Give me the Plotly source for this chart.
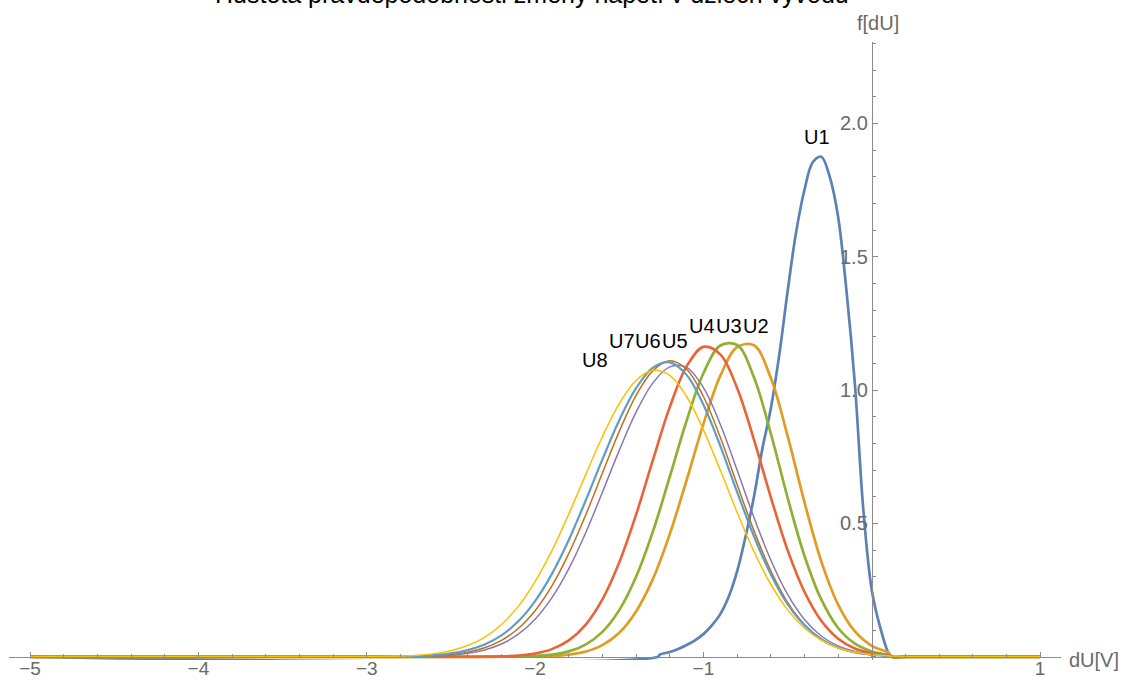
import plotly.graph_objects as go

# ---------------- data ----------------
title_text = "Hustota pravděpodobnosti změny napětí v uzlech vývodu"
series_names = ["U1", "U2", "U3", "U4", "U5", "U6", "U7", "U8"]

# U1 is sampled on its own grid
x_u1 = [-5.0, -1.27, -1.26, -1.2, -1.15, -1.1, -1.05, -1.0, -0.95, -0.9, -0.85, -0.8,
        -0.75, -0.7, -0.65, -0.6, -0.55, -0.5, -0.45, -0.4, -0.35, -0.3, -0.25, -0.2,
        -0.15, -0.1, -0.05, 0.0, 0.05, 0.1, 0.115, 0.2, 1.0]
y_u1 = [0, 0, 0.008, 0.018, 0.029, 0.044, 0.062, 0.085, 0.118, 0.160, 0.225, 0.32,
        0.45, 0.60, 0.78, 0.93, 1.13, 1.37, 1.59, 1.75, 1.855, 1.875, 1.80, 1.65,
        1.37, 1.02, 0.55, 0.25, 0.11, 0.012, 0, 0, 0]

# U2..U8 share one grid
x_grid = [-5.0, -3.2, -3.1, -3.0, -2.9, -2.8, -2.7, -2.6, -2.5, -2.4, -2.3, -2.2, -2.1,
          -2.0, -1.9, -1.8, -1.7, -1.6, -1.5, -1.4, -1.3, -1.2, -1.1, -1.0, -0.9, -0.8,
          -0.7, -0.6, -0.5, -0.4, -0.3, -0.2, -0.1, 0.0, 0.1, 0.12, 0.2, 1.0]
y_u2 = [0, 0, 0, 0, 0, 0, 0, 0, 0, 0, 0, 0.0001, 0.0003,
        0.0010, 0.0029, 0.0079, 0.0194, 0.0437, 0.090, 0.170, 0.292, 0.460, 0.662, 0.873, 1.053, 1.161,
        1.168, 1.046, 0.828, 0.580, 0.358, 0.196, 0.095, 0.041, 0.015, 0, 0, 0]
y_u3 = [0, 0, 0, 0, 0, 0, 0, 0, 0, 0, 0.0001, 0.0003, 0.0011,
        0.0031, 0.0083, 0.0203, 0.0456, 0.0933, 0.175, 0.300, 0.470, 0.675, 0.885, 1.063, 1.167, 1.169,
        1.048, 0.838, 0.597, 0.379, 0.215, 0.108, 0.049, 0.020, 0.007, 0, 0, 0]
y_u4 = [0, 0, 0, 0, 0, 0, 0, 0, 0, 0.0002, 0.0006, 0.0018, 0.0049,
        0.0124, 0.0288, 0.0614, 0.120, 0.215, 0.354, 0.533, 0.738, 0.936, 1.089, 1.162, 1.134, 1.008,
        0.814, 0.599, 0.400, 0.244, 0.135, 0.068, 0.031, 0.013, 0.005, 0, 0, 0]
y_u5 = [0, 0, 0, 0.0001, 0.0002, 0.0005, 0.0012, 0.0028, 0.0062, 0.0130, 0.0258, 0.048, 0.085,
        0.141, 0.222, 0.330, 0.464, 0.617, 0.774, 0.917, 1.027, 1.087, 1.085, 1.009, 0.872, 0.700,
        0.523, 0.363, 0.234, 0.140, 0.078, 0.041, 0.020, 0.009, 0.004, 0, 0, 0]
y_u6 = [0, 0, 0, 0.0001, 0.0003, 0.0007, 0.0017, 0.0040, 0.0086, 0.0175, 0.0338, 0.0616, 0.106,
        0.173, 0.266, 0.387, 0.531, 0.689, 0.845, 0.980, 1.073, 1.110, 1.078, 0.976, 0.823, 0.646,
        0.473, 0.322, 0.204, 0.121, 0.066, 0.034, 0.016, 0.007, 0.003, 0, 0, 0]
y_u7 = [0, 0, 0, 0.0002, 0.0005, 0.0012, 0.0028, 0.0062, 0.0127, 0.0248, 0.0458, 0.080, 0.133,
        0.209, 0.311, 0.438, 0.585, 0.740, 0.887, 1.007, 1.084, 1.104, 1.057, 0.945, 0.791, 0.618,
        0.452, 0.309, 0.197, 0.118, 0.066, 0.034, 0.017, 0.008, 0.003, 0, 0, 0]
y_u8 = [0, 0, 0, 0.0005, 0.0012, 0.0028, 0.0059, 0.0119, 0.0230, 0.0421, 0.073, 0.121, 0.189,
        0.282, 0.398, 0.535, 0.682, 0.825, 0.949, 1.036, 1.074, 1.055, 0.976, 0.851, 0.700, 0.542,
        0.395, 0.272, 0.176, 0.108, 0.062, 0.033, 0.017, 0.008, 0.004, 0, 0, 0]

x_tick_vals = [-5, -4, -3, -2, -1, 1]
x_tick_text = ["\u22125", "\u22124", "\u22123", "\u22122", "\u22121", "1"]
y_tick_vals = [0.5, 1.0, 1.5, 2.0]
y_tick_text = ["0.5", "1.0", "1.5", "2.0"]

# label anchor points (data coordinates)
label_x = [-0.327, -0.687, -0.847, -1.008, -1.168, -1.329, -1.483, -1.647]
label_y = [1.947, 1.2415, 1.2415, 1.2415, 1.184, 1.184, 1.184, 1.114]

# ---------------- styling ----------------
colors = ["#5E81B5", "#E19C24", "#8FB032", "#EB6235", "#8778B3", "#C56E1A", "#5D9EC7", "#FFBF00"]
widths = [2.7, 2.7, 2.7, 2.6, 1.5, 1.5, 2.2, 1.5]
axis_col = "#8c8c8c"
tick_font_col = "#6a6a6a"
FONT = "Liberation Sans, Arial, sans-serif"

xs = [x_u1] + [x_grid] * 7
ys = [y_u1, y_u2, y_u3, y_u4, y_u5, y_u6, y_u7, y_u8]

fig = go.Figure()
for name, xv, yv, c, w in zip(series_names, xs, ys, colors, widths):
    fig.add_trace(go.Scatter(x=xv, y=yv, mode="lines", name=name,
                             line=dict(color=c, width=w, shape="spline", smoothing=1.0),
                             hoverinfo="skip"))

x_range = [-5.125, 1.124]
y_range = [-0.012, 2.305]

fig.update_layout(
    width=1123, height=680,
    margin=dict(l=9, r=62.3, t=42, b=20.1, pad=0, autoexpand=False),
    plot_bgcolor="white", paper_bgcolor="white",
    showlegend=False,
    font=dict(family=FONT, size=20, color=tick_font_col),
    xaxis=dict(range=x_range, anchor="free", position=(0 - y_range[0]) / (y_range[1] - y_range[0]),
               automargin=False,
               showline=True, linecolor=axis_col, linewidth=1,
               showgrid=False, zeroline=False,
               tickmode="array", tickvals=x_tick_vals, ticktext=x_tick_text,
               ticks="inside", ticklen=5, tickwidth=1, tickcolor=axis_col,
               ticklabelstandoff=-6,
               tickfont=dict(family=FONT, size=19, color=tick_font_col),
               minor=dict(tickmode="linear", tick0=0, dtick=0.2, ticks="inside",
                          ticklen=3, tickwidth=1, tickcolor=axis_col, showgrid=False)),
    yaxis=dict(range=y_range, anchor="free", position=(0 - x_range[0]) / (x_range[1] - x_range[0]),
               side="left", automargin=False,
               showline=True, linecolor=axis_col, linewidth=1,
               showgrid=False, zeroline=False,
               tickmode="array", tickvals=y_tick_vals, ticktext=y_tick_text,
               ticks="inside", ticklen=5, tickwidth=1, tickcolor=axis_col,
               tickfont=dict(family=FONT, size=20, color=tick_font_col),
               minor=dict(tickmode="linear", tick0=0, dtick=0.1, ticks="inside",
                          ticklen=3, tickwidth=1, tickcolor=axis_col, showgrid=False)),
)

# curve labels
for name, lx, ly in zip(series_names, label_x, label_y):
    fig.add_annotation(x=lx, y=ly, xref="x", yref="y", text=name, showarrow=False,
                       xanchor="center", yanchor="middle",
                       font=dict(family=FONT, size=20, color="black"))

# axis labels
fig.add_annotation(x=0.8258, y=1.0307, xref="paper", yref="paper", text="f[dU]",
                   showarrow=False, xanchor="center", yanchor="middle",
                   font=dict(family=FONT, size=20, color=tick_font_col))
fig.add_annotation(x=1.0317, y=0.0006, xref="paper", yref="paper", text="dU[V]",
                   showarrow=False, xanchor="center", yanchor="middle",
                   font=dict(family=FONT, size=20, color=tick_font_col))
# title (partly above the visible page, as in the reference)
fig.add_annotation(x=0.4968, y=1.0782, xref="paper", yref="paper", text=title_text,
                   showarrow=False, xanchor="center", yanchor="middle",
                   font=dict(family=FONT, size=25, color="black"))

fig.write_html("out.html")
